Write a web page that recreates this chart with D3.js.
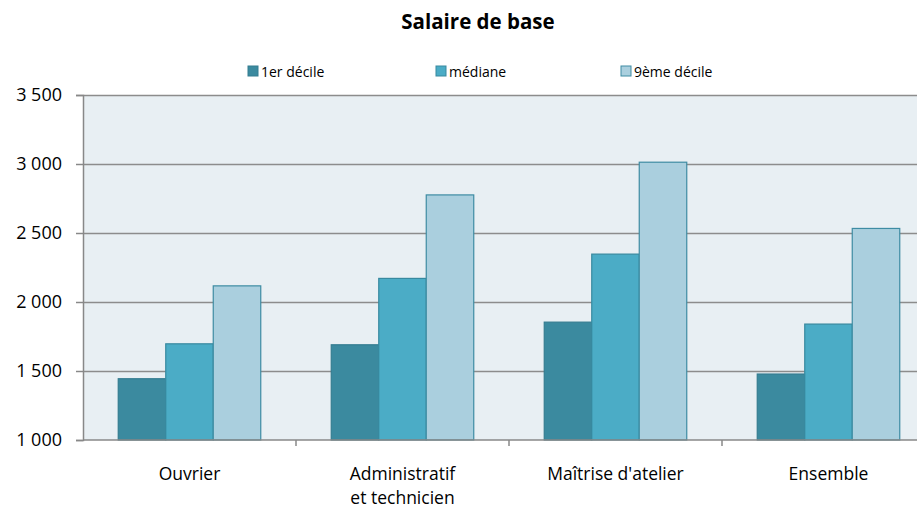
<!DOCTYPE html>
<html>
<head>
<meta charset="utf-8">
<script src="https://cdn.jsdelivr.net/npm/d3@7"></script>
<style>
  body { margin: 0; background: #fff; }
  svg { display: block; font-family: "Open Sans", "Liberation Sans", sans-serif; }
</style>
</head>
<body>
<div id="chart"></div>
<script>
// data
var categories = ["Ouvrier", "Administratif\net technicien", "Maîtrise d'atelier", "Ensemble"];
var seriesNames = ["1er décile", "médiane", "9ème décile"];
var decile1 = [1444, 1690, 1854, 1478];
var mediane = [1697, 2171, 2347, 1840];
var decile9 = [2117, 2776, 3013, 2533];
var yTicks = [1000, 1500, 2000, 2500, 3000, 3500];

var colors = ["#3B8A9F", "#4BACC6", "#AACFDE"];
var strokes = ["#347C90", "#38899F", "#3E8CA3"];

var svgWidth = 917;
var svgHeight = 508;

// plot area runs past the right edge, as in the original
var margin = { top: 95, left: 83, bottom: 68 };
var plotWidth = 852;
var height = svgHeight - margin.top - margin.bottom;

var svg = d3
  .select("#chart")
  .append("svg")
  .attr("width", svgWidth)
  .attr("height", svgHeight);

var chartGroup = svg
  .append("g")
  .attr("transform", `translate(${margin.left}, ${margin.top})`);

var rows = categories.map(function (c, i) {
  return { cat: c, values: [decile1[i], mediane[i], decile9[i]] };
});

var x0 = d3.scaleBand().domain(categories).range([0, plotWidth]).padding(0);
var x1 = d3
  .scaleBand()
  .domain(seriesNames)
  .range([0, x0.bandwidth()])
  .paddingInner(0)
  .paddingOuter(0.742);
var y = d3.scaleLinear().domain([1000, 3500]).range([height, 0]);

// background
chartGroup
  .append("rect")
  .attr("width", plotWidth)
  .attr("height", height)
  .attr("fill", "#E8EFF3");

// gridlines
chartGroup
  .append("g")
  .selectAll("line")
  .data(yTicks.slice(1))
  .enter()
  .append("line")
  .attr("x1", 0)
  .attr("x2", plotWidth)
  .attr("y1", (d) => Math.round(y(d)) + 0.5)
  .attr("y2", (d) => Math.round(y(d)) + 0.5)
  .attr("stroke", "#8C8C8C")
  .attr("stroke-width", 1.5);

// bars
var groups = chartGroup
  .selectAll("g.cat")
  .data(rows)
  .enter()
  .append("g")
  .attr("class", "cat")
  .attr("transform", (d) => `translate(${x0(d.cat)}, 0)`);

groups
  .selectAll("rect")
  .data((d) => d.values.map((v, i) => ({ name: seriesNames[i], value: v, i: i })))
  .enter()
  .append("rect")
  .attr("x", (d) => x1(d.name))
  .attr("y", (d) => y(d.value))
  .attr("width", x1.bandwidth())
  .attr("height", (d) => height - y(d.value))
  .attr("fill", (d) => colors[d.i])
  .attr("stroke", (d) => strokes[d.i])
  .attr("stroke-width", 1.2);

// y axis
var yAxis = d3
  .axisLeft(y)
  .tickValues(yTicks)
  .tickSize(7)
  .tickPadding(14)
  .tickFormat((d) => d3.format(",")(d).replace(",", " "));

var yAxisG = chartGroup.append("g").call(yAxis);
yAxisG.select(".domain").attr("stroke", "#888").attr("stroke-width", 1.5);
yAxisG.selectAll(".tick line").attr("stroke", "#888").attr("stroke-width", 1.5);
yAxisG
  .selectAll(".tick text")
  .attr("font-size", "18px")
  .attr("fill", "#000")
  .attr("font-family", "'Open Sans', sans-serif");

// x axis
var xAxisG = chartGroup.append("g").attr("transform", `translate(0, ${height})`);
xAxisG
  .append("line")
  .attr("x1", 0)
  .attr("x2", plotWidth)
  .attr("stroke", "#888")
  .attr("stroke-width", 1.5);
xAxisG
  .selectAll("line.tick")
  .data(categories.slice(1))
  .enter()
  .append("line")
  .attr("class", "tick")
  .attr("x1", (d) => x0(d))
  .attr("x2", (d) => x0(d))
  .attr("y1", 0)
  .attr("y2", 6)
  .attr("stroke", "#888")
  .attr("stroke-width", 1.5);

xAxisG
  .selectAll("text")
  .data(categories)
  .enter()
  .append("text")
  .attr("x", (d) => x0(d) + x0.bandwidth() / 2)
  .attr("y", 40)
  .attr("text-anchor", "middle")
  .attr("font-size", "17.5px")
  .attr("fill", "#000")
  .each(function (d) {
    var lines = d.split("\n");
    var t = d3.select(this);
    lines.forEach(function (l, i) {
      t.append("tspan")
        .attr("x", x0(d) + x0.bandwidth() / 2)
        .attr("dy", i === 0 ? 0 : 24)
        .text(l);
    });
  });

// title
svg
  .append("text")
  .attr("x", 478)
  .attr("y", 29)
  .attr("text-anchor", "middle")
  .attr("font-size", "20.5px")
  .attr("font-weight", "bold")
  .attr("fill", "#000")
  .text("Salaire de base");

// legend
var legendX = [248, 436, 621];
var legend = svg
  .selectAll("g.legend")
  .data(seriesNames)
  .enter()
  .append("g")
  .attr("class", "legend")
  .attr("transform", (d, i) => `translate(${legendX[i]}, 66)`);

legend
  .append("rect")
  .attr("width", 10)
  .attr("height", 10)
  .attr("fill", (d, i) => colors[i])
  .attr("stroke", (d, i) => strokes[i])
  .attr("stroke-width", 1);

legend
  .append("text")
  .attr("x", 13)
  .attr("y", 11)
  .attr("font-size", "14px")
  .attr("fill", "#000")
  .text((d) => d);
</script>
</body>
</html>
